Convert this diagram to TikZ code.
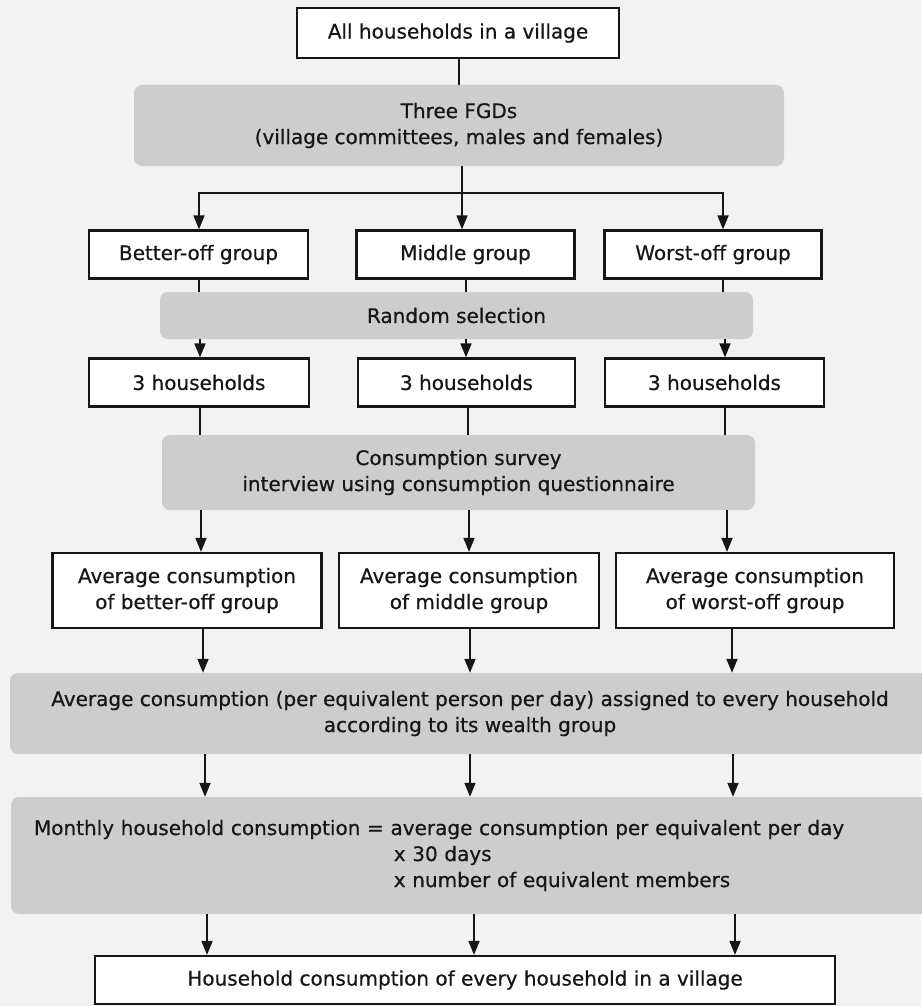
\documentclass[tikz,border=0pt]{standalone}
\usepackage{fontspec}
\setmainfont[FakeBold=0.6]{DejaVu Sans}
\usetikzlibrary{arrows.meta}
\definecolor{page}{HTML}{F2F2F2}
\definecolor{panelgray}{HTML}{CDCDCD}
\definecolor{ink}{HTML}{161616}
\tikzset{
  whitebox/.style={draw=ink, line width=2.2pt, fill=white, align=center,
    text=ink, inner sep=0pt},
  graypanel/.style={fill=panelgray, rounded corners=8pt, align=center,
    text=ink, inner sep=0pt},
  link/.style={draw=ink, line width=1.7pt},
  arr/.style={link, -{Triangle[length=14pt,width=11pt]}},
}
\begin{document}
\begin{tikzpicture}[x=1pt, y=-1pt, font=\fontsize{20}{26}\selectfont]
  % page
  \fill[page] (0,0) rectangle (921,1006);
  \useasboundingbox (0,0) rectangle (921,1006);

  % boxes and panels
  \node[whitebox, minimum width=322pt, minimum height=50pt] (top) at (458,33) {All households in a village};
  \node[graypanel, minimum width=650pt, minimum height=81pt] (fgd) at (459,125.5)
    {Three FGDs\\(village committees, males and females)};

  \node[whitebox, minimum width=219pt, minimum height=48pt] (better) at (198.5,254.5) {Better-off group};
  \node[whitebox, minimum width=218pt, minimum height=48pt] (middle) at (465.5,254.5) {Middle group};
  \node[whitebox, minimum width=217pt, minimum height=48pt] (worst) at (713,254.5) {Worst-off group};

  \node[graypanel, minimum width=593pt, minimum height=47pt] (rand) at (456.5,315.5) {Random selection};

  \node[whitebox, minimum width=220pt, minimum height=48pt] (hha) at (199,382.5) {3 households};
  \node[whitebox, minimum width=217pt, minimum height=48pt] (hhb) at (466.5,382.5) {3 households};
  \node[whitebox, minimum width=219pt, minimum height=48pt] (hhc) at (714.5,382.5) {3 households};

  \node[graypanel, minimum width=593pt, minimum height=75pt] (survey) at (458.5,472.5)
    {Consumption survey\\interview using consumption questionnaire};

  \node[whitebox, minimum width=269pt, minimum height=75pt] (avga) at (187,590.5)
    {Average consumption\\of better-off group};
  \node[whitebox, minimum width=260pt, minimum height=75pt] (avgb) at (469,590.5)
    {Average consumption\\of middle group};
  \node[whitebox, minimum width=278pt, minimum height=75pt] (avgc) at (755,590.5)
    {Average consumption\\of worst-off group};

  \node[graypanel, minimum width=920pt, minimum height=81pt] (assign) at (470,713.5)
    {Average consumption (per equivalent person per day) assigned to every household\\according to its wealth group};

  \node[graypanel, align=left, text width=884pt, inner xsep=23pt, minimum height=117pt] (monthly) at (476,855.5)
    {Monthly household consumption = average consumption per equivalent per day\\
     \hphantom{Monthly household consumption = }\,x 30 days\\
     \hphantom{Monthly household consumption = }\,x number of equivalent members};

  \node[whitebox, minimum width=740pt, minimum height=48pt] (final) at (465,980)
    {Household consumption of every household in a village};

  % top -> focus groups -> wealth groups
  \draw[link] (top.south -| 459,0) -- (fgd.north -| 459,0);
  \coordinate (fork) at (462,193);
  \draw[arr] (fgd.south -| fork) -- (middle.north -| fork);
  \draw[arr] (fork) -| (better.north -| 199,0);
  \draw[arr] (fork) -| (worst.north -| 723,0);

  % wealth groups -> random selection -> households
  \foreach \g/\x in {better/199, middle/466, worst/723}
    \draw[link] (\g.south -| \x,0) -- (rand.north -| \x,0);
  \foreach \h/\x in {hha/200, hhb/466, hhc/725}
    \draw[arr] (rand.south -| \x,0) -- (\h.north -| \x,0);

  % households -> survey -> group averages
  \foreach \h/\x in {hha/200, hhb/468, hhc/725}
    \draw[link] (\h.south -| \x,0) -- (survey.north -| \x,0);
  \foreach \a/\x in {avga/201, avgb/469, avgc/727}
    \draw[arr] (survey.south -| \x,0) -- (\a.north -| \x,0);

  % group averages -> assignment -> monthly -> final
  \foreach \a/\x in {avga/203, avgb/470, avgc/732}
    \draw[arr] (\a.south -| \x,0) -- (assign.north -| \x,0);
  \foreach \x in {205, 470, 733}
    \draw[arr] (assign.south -| \x,0) -- (monthly.north -| \x,0);
  \foreach \x in {207, 474, 735}
    \draw[arr] (monthly.south -| \x,0) -- (final.north -| \x,0);
\end{tikzpicture}
\end{document}
